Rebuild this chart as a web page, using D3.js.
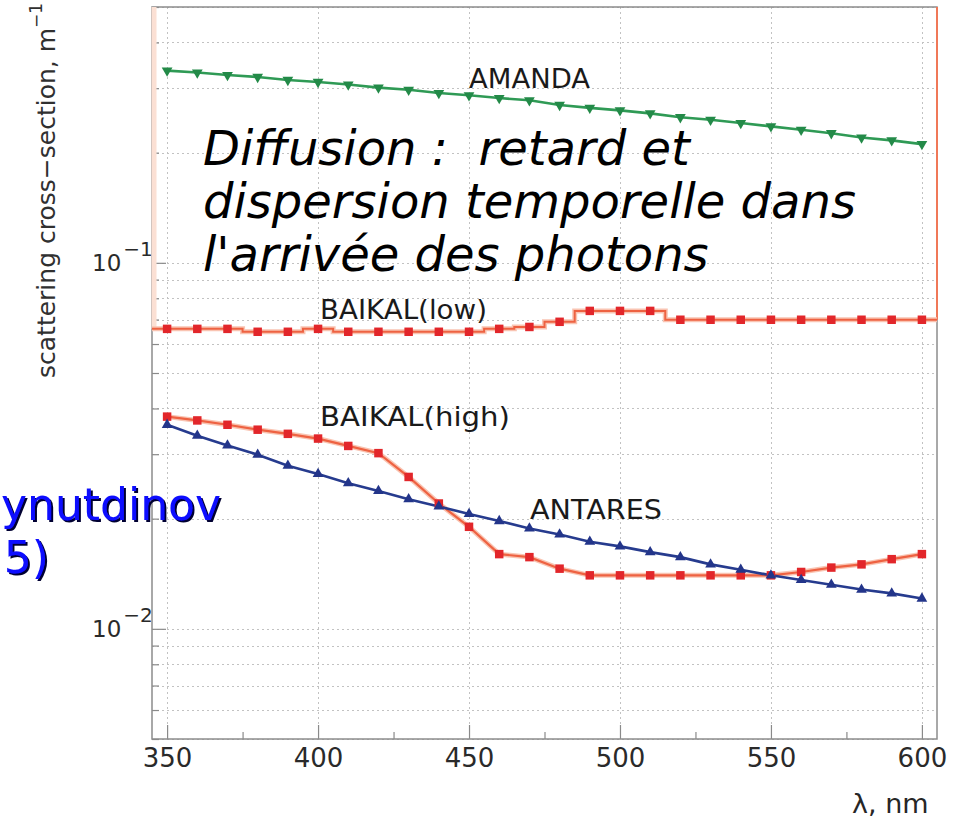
<!DOCTYPE html>
<html>
<head>
<meta charset="utf-8">
<script src="https://cdn.jsdelivr.net/npm/d3@7"></script>
<style>
  body { margin: 0; background: #fff; }
  text { font-family: "DejaVu Sans", sans-serif; }
</style>
</head>
<body>
<div id="chart"></div>
<script>
// wavelength, nm
const wavelengths = [350, 360, 370, 380, 390, 400, 410, 420, 430, 440, 450, 460, 470,
                     480, 490, 500, 510, 520, 530, 540, 550, 560, 570, 580, 590, 600];

// scattering cross-section, 1/m
const amanda = [0.335, 0.331, 0.326, 0.322, 0.316, 0.312, 0.307, 0.301, 0.297, 0.291, 0.287, 0.282, 0.278,
                0.270, 0.265, 0.261, 0.256, 0.250, 0.246, 0.241, 0.236, 0.231, 0.226, 0.220, 0.216, 0.211];
const baikalLow = [0.0660, 0.0660, 0.0660, 0.0648, 0.0648, 0.0660, 0.0648, 0.0648, 0.0648, 0.0648, 0.0648, 0.0660, 0.0668,
                   0.0690, 0.0739, 0.0739, 0.0739, 0.0699, 0.0699, 0.0699, 0.0699, 0.0699, 0.0699, 0.0699, 0.0699, 0.0699];
const baikalHigh = [0.0380, 0.0371, 0.0361, 0.0350, 0.0341, 0.0331, 0.0316, 0.0302, 0.0260, 0.0220, 0.0190, 0.0160, 0.0157,
                    0.0146, 0.0140, 0.0140, 0.0140, 0.0140, 0.0140, 0.0140, 0.0140, 0.0143, 0.0147, 0.0150, 0.0155, 0.0160];
const antares = [0.0361, 0.0337, 0.0317, 0.0299, 0.0279, 0.0265, 0.0250, 0.0238, 0.0226, 0.0216, 0.0206, 0.0197, 0.0188,
                 0.0181, 0.0173, 0.0168, 0.0162, 0.0157, 0.0150, 0.0145, 0.0140, 0.0136, 0.0132, 0.0128, 0.0125, 0.0121];

const xTicks = [350, 400, 450, 500, 550, 600];
const xMinorTicks = [375, 425, 475, 525, 575];
const yMajorTicks = [0.01, 0.1];
const yTickLabels = [{ v: 0.1, exp: '\u22121' }, { v: 0.01, exp: '\u22122' }];

const width = 969, height = 832;
const plot = { left: 152, right: 937, top: 7, bottom: 739 };

const svg = d3.select('#chart').append('svg')
    .attr('width', width)
    .attr('height', height);

const defs = svg.append('defs');
defs.append('filter').attr('id', 'shadow')
    .attr('x', '-10%').attr('y', '-10%').attr('width', '130%').attr('height', '130%')
    .append('feDropShadow')
    .attr('dx', 2).attr('dy', 2).attr('stdDeviation', 0.6)
    .attr('flood-color', '#000030').attr('flood-opacity', 1);

const x = d3.scaleLinear().domain([345, 605]).range([plot.left, plot.right]);
const y = d3.scaleLog().domain([0.005, 0.5]).range([plot.bottom, plot.top]);

// grid
const grid = svg.append('g').attr('class', 'grid')
    .attr('stroke', '#c2c2c2')
    .attr('stroke-width', 1)
    .attr('stroke-dasharray', '2,3');
grid.selectAll('.hg')
    .data(y.ticks())
    .enter().append('line')
    .attr('x1', plot.left).attr('x2', plot.right)
    .attr('y1', d => Math.round(y(d)) + 0.5).attr('y2', d => Math.round(y(d)) + 0.5);
grid.selectAll('.vg')
    .data(xTicks)
    .enter().append('line')
    .attr('x1', d => Math.round(x(d)) + 0.5).attr('x2', d => Math.round(x(d)) + 0.5)
    .attr('y1', plot.top).attr('y2', plot.bottom);

// axes (ticks drawn inside the frame)
const xAxis = svg.append('g')
    .attr('transform', `translate(0,${plot.bottom})`)
    .call(d3.axisBottom(x).tickValues(xTicks).tickSizeInner(-14).tickSizeOuter(0));
svg.append('g')
    .attr('transform', `translate(0,${plot.bottom})`)
    .call(d3.axisBottom(x).tickValues(xMinorTicks).tickSizeInner(-7).tickSizeOuter(0).tickFormat(''));
xAxis.selectAll('text')
    .attr('y', 28).attr('dy', 0)
    .style('font-family', '"DejaVu Sans", sans-serif')
    .style('font-size', '26px')
    .attr('fill', '#2a2a2a');

svg.append('g')
    .attr('transform', `translate(${plot.left},0)`)
    .call(d3.axisLeft(y).tickValues(yMajorTicks).tickSizeInner(-14).tickSizeOuter(0).tickFormat(''));
svg.append('g')
    .attr('transform', `translate(${plot.left},0)`)
    .call(d3.axisLeft(y).tickValues(y.ticks().filter(d => !yMajorTicks.includes(d)))
        .tickSizeInner(-7).tickSizeOuter(0).tickFormat(''));
svg.selectAll('.domain').remove();
svg.selectAll('.tick line').attr('stroke', '#8a8a8a').attr('stroke-width', 1.2);

svg.selectAll('.ylab')
    .data(yTickLabels)
    .enter().append('text')
    .attr('x', 92)
    .attr('y', d => y(d.v) + 8)
    .attr('fill', '#2a2a2a')
    .style('font-size', '23px')
    .text('10')
    .append('tspan')
    .attr('dy', -15)
    .attr('dx', 2)
    .style('font-size', '20px')
    .text(d => d.exp);

// frame
svg.append('rect')
    .attr('x', plot.left).attr('y', plot.top)
    .attr('width', plot.right - plot.left).attr('height', plot.bottom - plot.top)
    .attr('fill', 'none')
    .attr('stroke', '#8c8c8c')
    .attr('stroke-width', 1.5);

// axis titles
svg.append('text')
    .attr('transform', 'translate(55,378) rotate(-90)')
    .attr('fill', '#303030')
    .style('font-size', '25px')
    .text('scattering cross\u2212section, m')
    .append('tspan')
    .attr('dy', -13)
    .style('font-size', '17px')
    .text('\u22121');

svg.append('text')
    .attr('x', 852).attr('y', 813)
    .attr('fill', '#262626')
    .style('font-size', '27px')
    .text('\u03bb, nm');

// series
const line = d3.line().x(d => x(d[0])).y(d => y(d[1]));
const pts = vals => wavelengths.map((w, i) => [w, vals[i]]);
const lowLast = baikalLow[baikalLow.length - 1];

// BAIKAL(low): histogram-like step line, its outer edges run up the frame
const lowSteps = [[345, baikalLow[0]]].concat(pts(baikalLow)).concat([[605, lowLast]]);
const stepLine = d3.line().x(d => x(d[0])).y(d => y(d[1])).curve(d3.curveStep);
svg.append('line')
    .attr('x1', x(345) + 2).attr('x2', x(345) + 2)
    .attr('y1', y(0.5)).attr('y2', y(baikalLow[0]))
    .attr('stroke', '#fbe0d4').attr('stroke-width', 5);
svg.append('line')
    .attr('x1', x(605)).attr('x2', x(605))
    .attr('y1', y(0.5)).attr('y2', y(lowLast))
    .attr('stroke', '#f07858').attr('stroke-width', 2);
svg.append('path').attr('d', stepLine(lowSteps))
    .attr('fill', 'none').attr('stroke', '#f9c4b2').attr('stroke-width', 5);
svg.append('path').attr('d', stepLine(lowSteps))
    .attr('fill', 'none').attr('stroke', '#ee6242').attr('stroke-width', 2);

svg.append('path').attr('d', line(pts(baikalHigh)))
    .attr('fill', 'none').attr('stroke', '#f9c4b2').attr('stroke-width', 5);
svg.append('path').attr('d', line(pts(baikalHigh)))
    .attr('fill', 'none').attr('stroke', '#ee6242').attr('stroke-width', 2.2);

svg.append('path').attr('d', line(pts(amanda)))
    .attr('fill', 'none').attr('stroke', '#2f9a55').attr('stroke-width', 2.6);
svg.append('path').attr('d', line(pts(antares)))
    .attr('fill', 'none').attr('stroke', '#263b8e').attr('stroke-width', 2.6);

function markers(vals, type, size, color, rot) {
    svg.append('g').selectAll('path')
        .data(pts(vals))
        .enter().append('path')
        .attr('d', d3.symbol().type(type).size(size))
        .attr('transform', d => `translate(${x(d[0])},${y(d[1])}) rotate(${rot})`)
        .attr('fill', color);
}
markers(baikalLow, d3.symbolSquare, 72, '#e2262a', 0);
markers(baikalHigh, d3.symbolSquare, 72, '#e2262a', 0);
markers(amanda, d3.symbolTriangle, 50, '#238a48', 180);
markers(antares, d3.symbolTriangle, 50, '#23358a', 0);

// series labels
const labels = [
    { t: 'AMANDA', x: 469, y: 88, w: 121 },
    { t: 'BAIKAL(low)', x: 320, y: 319, w: 167 },
    { t: 'BAIKAL(high)', x: 320, y: 426, w: 190 },
    { t: 'ANTARES', x: 530, y: 519, w: 132 }
];
svg.selectAll('.slab')
    .data(labels)
    .enter().append('text')
    .attr('x', d => d.x).attr('y', d => d.y)
    .attr('textLength', d => d.w)
    .attr('lengthAdjust', 'spacingAndGlyphs')
    .attr('fill', '#1a1a1a')
    .style('font-size', '26px')
    .text(d => d.t);

// annotation
const note = ['Diffusion :  retard et', 'dispersion temporelle dans', "l'arriv\u00e9e des photons"];
svg.selectAll('.note')
    .data(note)
    .enter().append('text')
    .attr('x', 203)
    .attr('y', (d, i) => 165 + i * 53)
    .attr('fill', '#000')
    .style('font-size', '48px')
    .style('font-style', 'italic')
    .style('white-space', 'pre')
    .text(d => d);

// reference text at the left edge
const ref = [{ t: 'ynutdinov', x: 1, y: 520, anchor: 'start' }, { t: '5)', x: 49, y: 573, anchor: 'end' }];
svg.append('g').selectAll('text')
    .data(ref)
    .enter().append('text')
    .attr('x', d => d.x).attr('y', d => d.y)
    .attr('text-anchor', d => d.anchor)
    .attr('fill', '#1010ff')
    .attr('filter', 'url(#shadow)')
    .style('font-size', '44px')
    .text(d => d.t);
</script>
</body>
</html>
